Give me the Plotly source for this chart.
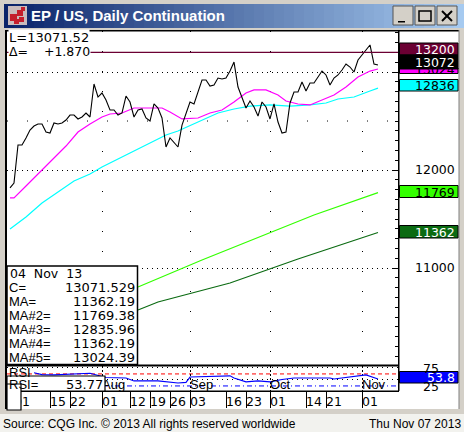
import plotly.graph_objects as go

W, H = 464, 432
close_idx = list(range(93))
close_vals = [11817,11868,12255,12255,12327,12408,12449,12470,12470,12388,12378,12480,12470,12480,12510,12561,12561,12521,12541,12582,
12541,12878,12745,12786,12714,12613,12613,12561,12582,12755,12694,12541,12613,12623,12531,12500,12674,12633,12531,12235,
12327,12286,12235,12459,12582,12694,12674,12796,12919,12919,12857,12868,12939,12929,12939,13010,13102,12847,12735,12633,
12704,12643,12551,12694,12643,12521,12674,12490,12378,12388,12684,12796,12796,12898,12806,12888,12888,12949,13010,12970,
12868,12939,12970,13021,13082,13051,13000,13123,13174,13225,13276,13082,13072]

ma_mag_idx = [0,1,4,8,10,14,17,20,23,25,28,31,36,38,40,43,47,50,53,56,59,61,64,67,69,72,75,78,81,84,87,90,92]
ma_mag = [11715,11715,11837,12000,12072,12245,12388,12470,12541,12572,12582,12633,12633,12633,12592,12521,12531,12582,12613,12694,12786,12817,12817,12766,12704,12674,12664,12714,12766,12847,12949,13010,13031]
ma_cyan_idx = [0,4,8,12,16,20,23,30,39,42,47,52,56,60,65,70,75,79,82,86,90,92]
ma_cyan = [11398,11521,11664,11776,11888,11959,12031,12174,12357,12398,12490,12582,12623,12653,12664,12653,12664,12684,12725,12745,12806,12836]
ma_lg_idx = [32,48,76,92]
ma_lg = [10806,11082,11541,11769]
ma_dg_idx = [32,37,55,72,92]
ma_dg = [10572,10653,10847,11092,11362]
rsi_idx = [6,8,11,14,20,24,29,31,37,42,44,45,55,56,59,62,65,68,71,80,81,89,91,92]
rsi_vals = [80,72,71,74,78,60,58,46,46,37,40,62,67,58,42,46,42,52,58,58,54,71,58,53.8]

date_ticks = [1,10,15,23,30,35,40,45,54,59,65,74,79,88]
date_labels = ["01","15","22","01","12","19","26","03","16","23","01","14","21","01"]
month_ticks = [23,45,65,88]
month_labels = ["Aug","Sep","Oct","Nov"]
info_names = ["C=","MA=","MA#2=","MA#3=","MA#4=","MA#5="]
info_values = ["13071.529","11362.19","11769.38","12835.96","11362.19","13024.39"]

def px(x): return x / W
def py(y): return 1 - y / H
FONT = "DejaVu Sans"
FONT2 = "Liberation Sans"

fig = go.Figure()
XR = [-0.75, 97]
T = dict(mode="lines", hoverinfo="skip", showlegend=False)
fig.add_trace(go.Scatter(x=ma_lg_idx, y=ma_lg, line=dict(color="#33ff00", width=1.2), **T))
fig.add_trace(go.Scatter(x=ma_dg_idx, y=ma_dg, line=dict(color="#0b6b12", width=1.2), **T))
fig.add_trace(go.Scatter(x=ma_cyan_idx, y=ma_cyan, line=dict(color="#00ffff", width=1.2), **T))
fig.add_trace(go.Scatter(x=ma_mag_idx, y=ma_mag, line=dict(color="#ff00ff", width=1.2), **T))
fig.add_trace(go.Scatter(x=close_idx, y=close_vals, line=dict(color="#000000", width=1.1), **T))
fig.add_trace(go.Scatter(x=rsi_idx, y=rsi_vals, xaxis="x2", yaxis="y2", line=dict(color="#0000ff", width=1.1), **T))
fig.add_trace(go.Scatter(x=month_ticks, y=[24]*4, xaxis="x2", yaxis="y2", mode="text", text=month_labels,
    textposition="middle right", textfont=dict(family=FONT2, size=13, color="#000"), hoverinfo="skip", showlegend=False))
fig.add_trace(go.Scatter(x=date_ticks, y=[0.32]*14, xaxis="x3", yaxis="y3", mode="text", text=date_labels,
    textposition="middle right", textfont=dict(family=FONT, size=12.5, color="#000"), hoverinfo="skip", showlegend=False))

shapes = []
def rect(x0, y0, x1, y1, fill, line=None, lw=1, layer="below"):
    shapes.append(dict(type="rect", xref="paper", yref="paper", x0=px(x0), x1=px(x1), y0=py(y0), y1=py(y1),
        fillcolor=fill, line=dict(color=line or fill, width=lw if line else 0), layer=layer))

# window chrome
rect(0, 414, 464, 432, "#f2f2ee")
rect(5, 30, 459, 409, "#ffffff")
n = 46
c0, c1 = (10, 36, 106), (166, 202, 240)
for k in range(n):
    t = k / (n - 1)
    col = "rgb(%d,%d,%d)" % tuple(round(a + (b - a) * t) for a, b in zip(c0, c1))
    rect(4 + k * 10, 4, 4 + (k + 1) * 10 + 0.5, 28, col)
rect(8, 6, 27, 25, "#c9bcbc")
for (a, b, s) in [(10, 14, 7), (17, 10, 6), (21, 7, 4), (14, 19, 5), (19, 17, 5)]:
    rect(a, b, a + s, b + s, "#c41f2c")
for a in (393, 415, 437):
    rect(a, 6, a + 20, 25, "#d4d0c8", "#555555", 1)
rect(398, 21, 405, 22.5, "#000000")
rect(419, 11, 431, 21, "#d4d0c8", "#000000", 1.5)
for sgn in (0, 1):
    shapes.append(dict(type="line", xref="paper", yref="paper", x0=px(442), x1=px(452), y0=py(11 if sgn else 21), y1=py(21 if sgn else 11), line=dict(color="#000", width=2)))
# frame lines
rect(5, 30, 459, 31.5, "#000000")
rect(5, 30, 7, 409, "#000000")
rect(398, 31, 399.5, 391, "#000000", layer="above")
rect(7, 364.5, 399, 366.5, "#000000", layer="above")
rect(7, 390.5, 399, 392, "#000000", layer="above")
rect(458.5, 30, 459.5, 409, "#808080")
rect(0, 409, 464, 414, "#d4d0c8")
# marker lines in price units
shapes.append(dict(type="line", xref="x", yref="y", x0=XR[0], x1=XR[1], y0=13200, y1=13200, line=dict(color="#6b0033", width=1.2), layer="above"))
shapes.append(dict(type="line", xref="x", yref="y", x0=XR[0], x1=XR[1], y0=12500, y1=12500, line=dict(color="#000", width=1, dash="1px,19px"), layer="below"))
shapes.append(dict(type="line", xref="x2", yref="y2", x0=XR[0], x1=XR[1], y0=75, y1=75, line=dict(color="#ff0000", width=1, dash="4px,3px"), layer="below"))
shapes.append(dict(type="line", xref="x2", yref="y2", x0=XR[0], x1=XR[1], y0=25, y1=25, line=dict(color="#0000ff", width=1, dash="5px,3px,1px,3px"), layer="below"))
# overlay boxes
rect(7, 266, 137.5, 364.5, "#ffffff", "#000000", 1.5, "above")
rect(7, 376, 105, 391, "#ffffff", "#000000", 1.2, "above")
rect(7, 384, 21, 410, "#ffffff", "#000000", 1.2, "above")

ann = []
def label(x, y, text, anchor="left", color="#000", size=12, bold=False, family=FONT):
    ann.append(dict(xref="paper", yref="paper", x=px(x), y=py(y), xanchor=anchor, yanchor="middle", text=("<b>%s</b>" % text) if bold else text,
        showarrow=False, font=dict(family=family, size=size, color=color), borderpad=0))
def pricebox(y0, y1, text, bg, fg, ty=None):
    rect(399.5, y0, 458, y1, bg, "#000000", 1, "above")
    label(455.5, ty if ty else (y0 + y1) / 2 + 0.5, text, "right", fg, 12.5)

label(30, 16, "EP / US, Daily Continuation", color="#ffffff", size=15, bold=True, family=FONT2)
ann.append(dict(xref="paper", yref="paper", x=px(8), y=py(37.5), xanchor="left", yanchor="middle", showarrow=False, text="L=13071.52", font=dict(family=FONT, size=13, color="#000"), bgcolor="#fff", borderpad=0))
ann.append(dict(xref="paper", yref="paper", x=px(8), y=py(51), xanchor="left", yanchor="middle", showarrow=False, text="Δ=&nbsp;&nbsp;&nbsp;&nbsp;+1.870", font=dict(family=FONT, size=12.5, color="#000"), bgcolor="#fff", borderpad=0))
label(8.5, 273, "04&nbsp;&nbsp;Nov&nbsp;&nbsp;13", size=12.5)
for k, (nm, v) in enumerate(zip(info_names, info_values)):
    label(8, 287 + k * 14, nm, size=13, family=FONT2)
    label(136, 287 + k * 14, v, "right", size=13)
label(8, 372, "RSI", size=13, family=FONT2)
label(8, 384, "RSI=", size=13, family=FONT2)
label(103.5, 384, "53.77", "right", size=13)
pricebox(43, 55, "13200", "#6b0033", "#ffffff")
pricebox(68, 73.5, "13024", "#ff00ff", "#000000", 69)
pricebox(55, 69, "13072", "#000000", "#ffffff")
pricebox(79.5, 91, "12836", "#00ffff", "#000000")
pricebox(185.5, 197.5, "11769", "#33ff00", "#000000")
pricebox(225.5, 238, "11362", "#0b6b12", "#ffffff")
label(455.5, 169, "12000", "right", size=12.5)
label(455.5, 267, "11000", "right", size=12.5)
label(440, 368, "75", "right", size=12.5)
label(440, 386, "25", "right", size=12.5)
pricebox(371.5, 383, "53.8", "#0000ff", "#ffffff")
label(2, 424, "Source: CQG Inc. © 2013 All rights reserved worldwide", size=12, family=FONT2)
label(462, 424, "Thu Nov 07 2013", "right", size=12, family=FONT2)

fig.update_layout(
    width=W, height=H, margin=dict(l=0, r=0, t=0, b=0), autosize=False,
    paper_bgcolor="#d4d0c8", plot_bgcolor="#ffffff", showlegend=False,
    shapes=shapes, annotations=ann,
    xaxis=dict(domain=[px(7), px(398)], range=XR, tickmode="array", tickvals=month_ticks, showticklabels=False, ticks="",
               showgrid=True, gridcolor="#000", griddash="1px,19px", gridwidth=1, zeroline=False, anchor="y"),
    yaxis=dict(domain=[py(365), py(31)], range=[10010.5, 13418.7], side="right", tickvals=[11000, 12000, 13000], showticklabels=False,
               ticks="inside", ticklen=6, tickcolor="#000", showgrid=True, gridcolor="#000", griddash="1px,4px", gridwidth=1,
               minor=dict(dtick=100, ticks="inside", ticklen=3, tickcolor="#000", showgrid=False), zeroline=False, anchor="x"),
    xaxis2=dict(domain=[px(7), px(398)], range=XR, tickmode="array", tickvals=month_ticks, showticklabels=False, ticks="",
                showgrid=True, gridcolor="#000", griddash="2px,2px", gridwidth=1, zeroline=False, anchor="y2"),
    yaxis2=dict(domain=[py(391), py(366)], range=[4, 108], side="right", tickvals=[50, 100], showticklabels=False, ticks="",
                showgrid=True, gridcolor="#000", griddash="1px,4px", gridwidth=1, zeroline=False, anchor="x2"),
    xaxis3=dict(domain=[px(7), px(398)], range=XR, tickmode="array", tickvals=date_ticks, showticklabels=False,
                ticks="inside", ticklen=16, tickcolor="#000", showgrid=False, zeroline=False, anchor="y3"),
    yaxis3=dict(domain=[py(408), py(392)], range=[0, 1], visible=False, anchor="x3"),
)
fig.write_html("out.html", config=dict(displayModeBar=False),
               post_script="document.body.style.margin='0';document.documentElement.style.overflow='hidden';")
